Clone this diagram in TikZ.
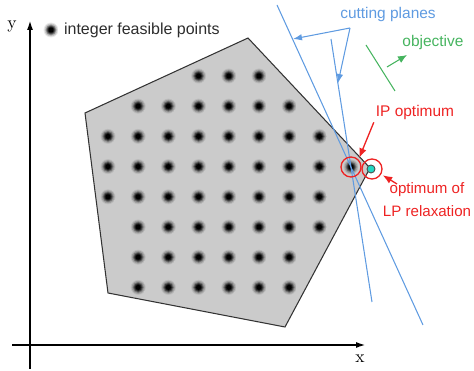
\documentclass[tikz,border=0pt]{standalone}
\usepackage{fontspec}
\setsansfont{Liberation Sans}
\usepackage{tikz}
\usetikzlibrary{shapes, arrows.meta, positioning, calc}
\usepackage{xcolor}

\definecolor{cutblue}{RGB}{95,155,225}
\definecolor{objgreen}{RGB}{70,180,95}
\definecolor{optred}{RGB}{238,35,35}
\definecolor{lpgray}{RGB}{203,203,203}
\definecolor{lpcyan}{RGB}{35,215,195}
\definecolor{legendtext}{RGB}{45,45,45}

\begin{document}
\begin{tikzpicture}[x=0.02cm, y=-0.02cm,
        intpt/.style={circle, minimum size=0.3cm, inner sep=0pt, fill=#1,
            path picture={\foreach \r/\k in {7.5/8, 6.5/22, 5.5/42, 4.5/65, 3.5/85, 2.5/100}
                \fill [black!\k!#1] (path picture bounding box.center) circle (\r*0.02cm);}},
        intpt/.default=lpgray,
        txt/.style={font=\sffamily\fontsize{8.8}{10.2}\selectfont, inner sep=1pt},
        ring/.style={circle, draw=optred, line width=0.75pt, minimum size=0.4cm, inner sep=0pt},
        lpdot/.style={circle, draw=black!70, fill=lpcyan, line width=0.5pt, minimum size=0.16cm, inner sep=0pt},
        axis/.style={-{Latex[length=2mm, width=1.2mm]}, line width=1.1pt, draw=black},
        cutline/.style={draw=cutblue, line width=0.6pt},
        cutarrow/.style={-{Latex[length=1.8mm, width=1.3mm]}, draw=cutblue, line width=0.6pt},
        objarrow/.style={-{Latex[length=1.8mm, width=1.5mm]}, draw=objgreen, line width=0.6pt},
        optarrow/.style={-{Latex[length=1.9mm, width=1.5mm]}, draw=optred, line width=0.75pt}
    ]
        \useasboundingbox (0,0) rectangle (474,371);

        % Ejes
        \coordinate (ybot) at (30,369);
        \coordinate (ytop) at (30,20);
        \coordinate (xleft) at (12,345);
        \coordinate (xright) at (366,345);
        \draw [axis] (ybot) -- (ytop);
        \draw [axis] (xleft) -- (xright);
        \node (ylab) at (12,27) {y};
        \node (xlab) at (360,359) {x};

        % Region factible del LP
        \fill [lpgray] (85,113) -- (248,38) -- (370,168) -- (285,327) -- (108,293) -- cycle;

        % Puntos enteros (fila / primera / ultima columna)
        \foreach \row/\first/\last in {0/3/5, 1/1/6, 2/0/7, 3/0/7, 4/0/7, 5/1/7, 6/1/6, 7/1/6}
            \foreach \col in {\first,...,\last}
                \node [intpt] (p-\col-\row) at (108+30.2*\col, 76+30.2*\row) {};
        \node [intpt] (ipopt) at (351,167) {};

        \draw [black!80, line width=0.6pt] (85,113) -- (248,38) -- (370,168) -- (285,327) -- (108,293) -- cycle;

        % Leyenda
        \node [intpt=white] (legdot) at (51,30) {};
        \node [txt, text=legendtext, anchor=west, font=\sffamily\fontsize{9.1}{10.5}\selectfont] (legtext) at (62,30) {integer feasible points};

        % Planos de corte
        \coordinate (cut1a) at (277,5);
        \coordinate (cut1b) at (423,325);
        \coordinate (cut2a) at (331,39);
        \coordinate (cut2b) at (372,302);
        \draw [cutline] (cut1a) -- (cut1b);
        \draw [cutline] (cut2a) -- (cut2b);
        \node [txt, text=cutblue] (cutlab) at (388,15) {cutting planes};
        \coordinate (cutfork) at (350,28);
        \coordinate (cut1hit) at (293,39);
        \coordinate (cut2hit) at (338,83);
        \draw [cutarrow] (cutfork) -- (cut1hit);
        \draw [cutarrow] (cutfork) -- (cut2hit);

        % Objetivo
        \coordinate (obja) at (366,45);
        \coordinate (objb) at (395,91);
        \draw [draw=objgreen, line width=0.6pt] (obja) -- (objb);
        \coordinate (objtail) at (387,67);
        \coordinate (objtip) at (407,55);
        \draw [objarrow] (objtail) -- (objtip);
        \node [txt, text=objgreen] (objlab) at (433,43) {objective};

        % Optimos
        \node [ring] (ipring) at (ipopt) {};
        \node [txt, text=optred] (iplab) at (415,113) {IP optimum};
        \draw [optarrow, shorten >=1pt] (iplab.south west) -- (ipring.north east);

        \node [lpdot] (lpopt) at (371,169) {};
        \node [ring] (lpring) at (372,169) {};
        \node [txt, text=optred, align=center, font=\sffamily\fontsize{8.6}{13}\selectfont] (lplab) at (427,200) {optimum of\\LP relaxation};
        \coordinate (lptail) at (397,184);
        \draw [optarrow, shorten >=1pt] (lptail) -- (lpring.-30);
    \end{tikzpicture}
\end{document}
